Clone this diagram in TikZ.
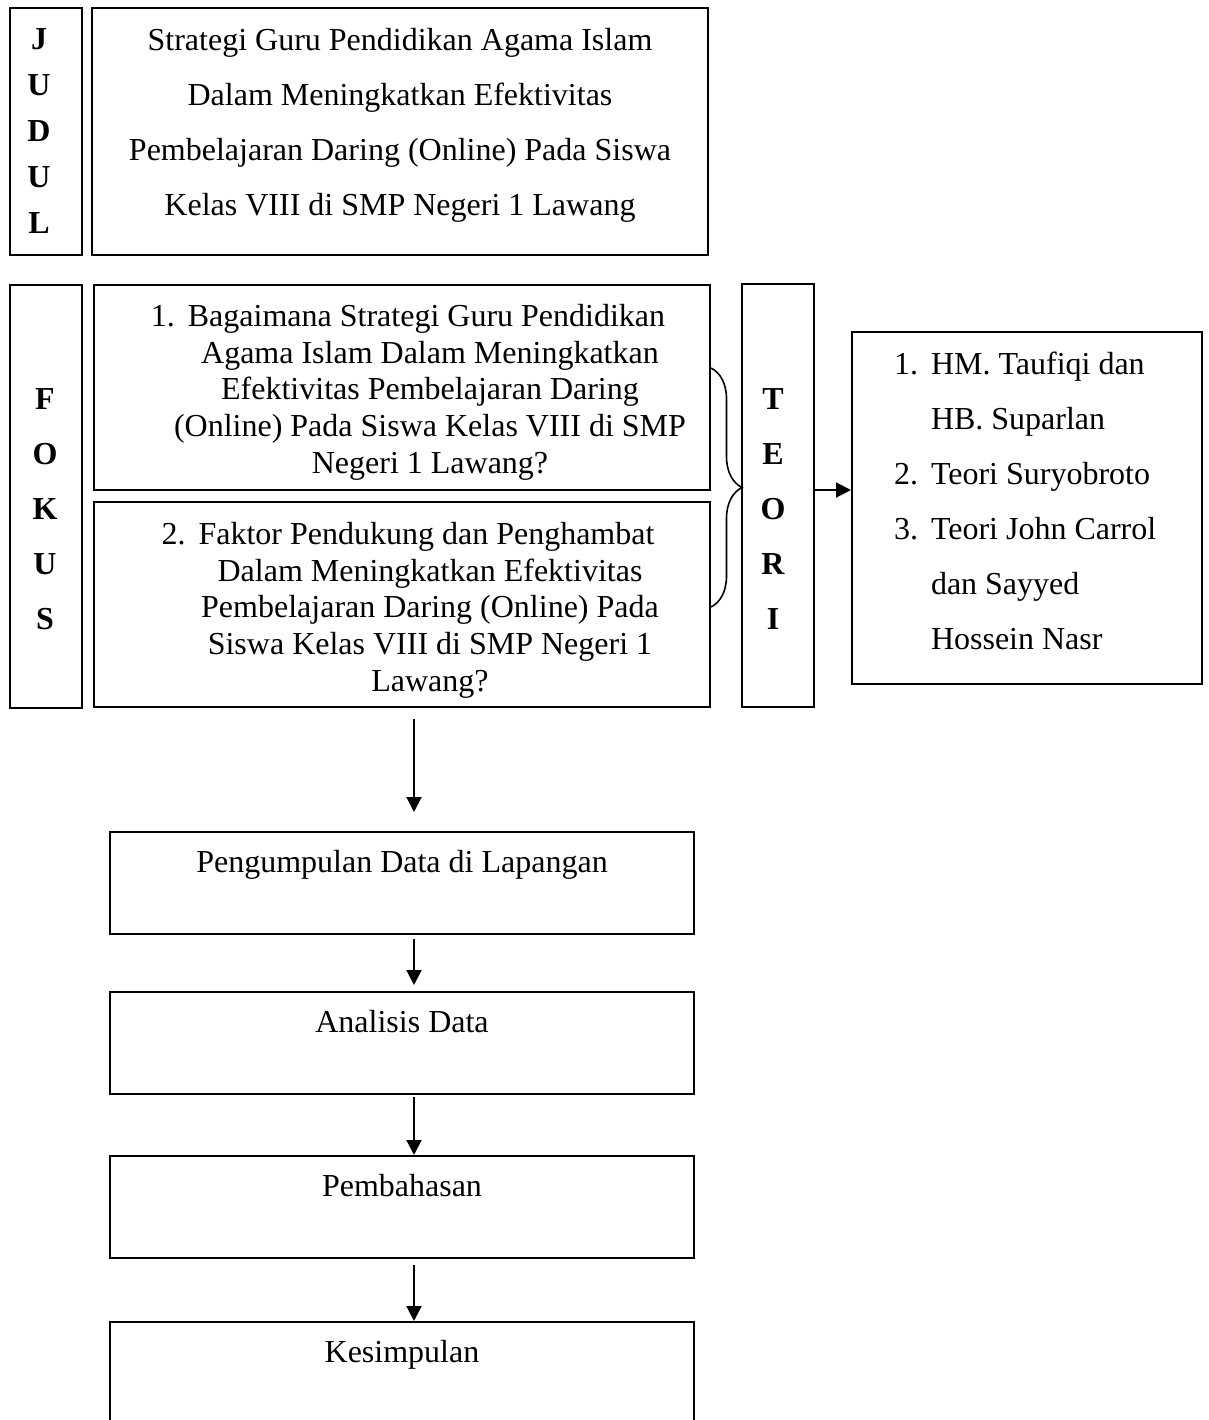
\documentclass[tikz,border=0pt]{standalone}
\usepackage{fontspec}
\setmainfont{Liberation Serif}
\usetikzlibrary{arrows.meta}
\usetikzlibrary{decorations.pathreplacing}

\begin{document}
\begin{tikzpicture}[x=0.5pt,y=-0.5pt,>={Triangle[length=7.5pt,width=7.5pt]},line width=1pt,
  box node/.style={draw,rectangle,inner sep=0pt},
  text node/.style={inner sep=0pt,align=center,font=\fontsize{16}{18.35}\selectfont},
  wide text/.style={inner sep=0pt,align=center,font=\fontsize{16}{27.5}\selectfont},
  letter node/.style={inner sep=0pt,align=center,anchor=north,font=\fontsize{16}{27.5}\selectfont\bfseries}]

  \useasboundingbox (0,0) rectangle (1209,1420);

  % judul
  \node[box node,minimum width=36pt,minimum height=123.5pt] (judul) at (46,131.5) {};
  \node[box node,minimum width=308pt,minimum height=123.5pt] (title) at (400,131.5) {};
  \node[letter node,font=\fontsize{16}{23}\selectfont\bfseries] (jtext) at (39,15.8) {\strut J\\U\\D\\U\\L};
  \node[wide text,anchor=north] (ttitle) at (400,10.5) {\strut Strategi Guru Pendidikan Agama Islam\\
    Dalam Meningkatkan Efektivitas\\
    Pembelajaran Daring (Online) Pada Siswa\\
    Kelas VIII di SMP Negeri 1 Lawang};

  % fokus dan teori
  \node[box node,minimum width=36pt,minimum height=211.5pt] (fokus) at (46,496.5) {};
  \node[letter node] (ftext) at (45,369.5) {\strut F\\O\\K\\U\\S};
  \node[box node,minimum width=308pt,minimum height=102.5pt] (q1) at (402,387.5) {};
  \node[box node,minimum width=308pt,minimum height=102.5pt] (q2) at (402,604.5) {};
  \node[text node,anchor=north] (q1text) at (430,299.8) {\strut\makebox[18.5pt][l]{1.}Bagaimana Strategi Guru Pendidikan\kern22pt\\
    Agama Islam Dalam Meningkatkan\\
    Efektivitas Pembelajaran Daring\\
    (Online) Pada Siswa Kelas VIII di SMP\\
    Negeri 1 Lawang?};
  \node[text node,anchor=north] (q2text) at (430,517.8) {\strut\makebox[18.5pt][l]{2.}Faktor Pendukung dan Penghambat\kern22pt\\
    Dalam Meningkatkan Efektivitas\\
    Pembelajaran Daring (Online) Pada\\
    Siswa Kelas VIII di SMP Negeri 1\\
    Lawang?};
  \node[box node,minimum width=36pt,minimum height=211.5pt] (teori) at (778,495.5) {};
  \node[letter node] (tetext) at (773,369.5) {\strut T\\E\\O\\R\\I};
  \node[box node,minimum width=175pt,minimum height=176pt] (list) at (1027,508) {};
  \node[wide text,align=left,anchor=north west] (listtext) at (893,335) {\strut\makebox[18.5pt][l]{1.}HM. Taufiqi dan\\
    \hspace*{18.5pt}HB. Suparlan\\
    \makebox[18.5pt][l]{2.}Teori Suryobroto\\
    \makebox[18.5pt][l]{3.}Teori John Carrol\\
    \hspace*{18.5pt}dan Sayyed\\
    \hspace*{18.5pt}Hossein Nasr};

  \draw[line width=0.8pt,decorate,decoration={brace,amplitude=15.5pt}]
    ([yshift=9.75pt]q1.east) -- ([yshift=-1.25pt]q2.east);
  \draw[->] ([yshift=2.75pt]teori.east) -- ([yshift=2.75pt]teori.east -| list.west);

  % alur penelitian
  \node[box node,minimum width=292pt,minimum height=51pt] (data) at (402,883) {};
  \node[box node,minimum width=292pt,minimum height=51pt] (analisis) at (402,1043) {};
  \node[box node,minimum width=292pt,minimum height=51pt] (bahas) at (402,1207) {};
  \node[box node,minimum width=292pt,minimum height=51pt] (simpul) at (402,1373) {};
  \node[text node,anchor=base] (datatext) at (402,872.5) {Pengumpulan Data di Lapangan};
  \node[text node,anchor=base] (analisistext) at (402,1032.5) {Analisis Data};
  \node[text node,anchor=base] (bahastext) at (402,1196.5) {Pembahasan};
  \node[text node,anchor=base] (simpultext) at (402,1362.5) {Kesimpulan};

  \path[->]
    ([xshift=6pt]q2.south) edge [shorten <=5.5pt,shorten >=9.5pt] ([xshift=6pt]data.north)
    ([xshift=6pt]data.south) edge [shorten <=2pt,shorten >=3pt] ([xshift=6pt]analisis.north)
    ([xshift=6pt]analisis.south) edge [shorten <=1pt] ([xshift=6pt]bahas.north)
    ([xshift=6pt]bahas.south) edge [shorten <=3pt] ([xshift=6pt]simpul.north);

\end{tikzpicture}
\end{document}
